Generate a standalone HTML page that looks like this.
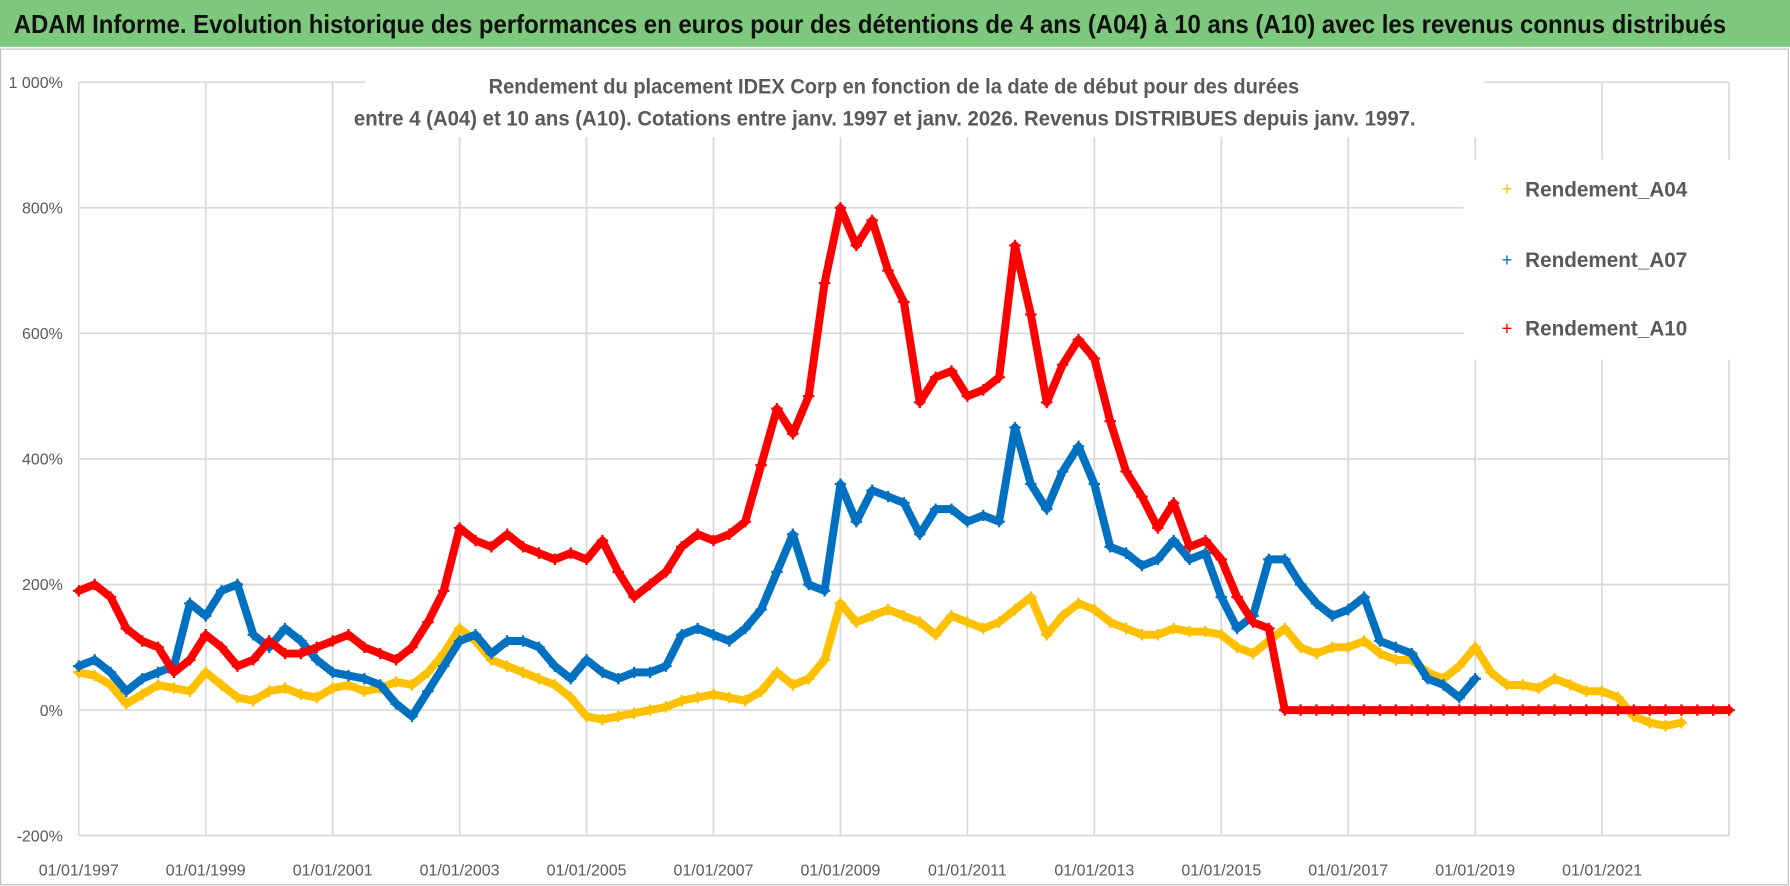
<!DOCTYPE html>
<html><head><meta charset="utf-8"><style>
html,body{margin:0;padding:0;background:#fff;width:1790px;height:886px;overflow:hidden}
svg{display:block;font-family:"Liberation Sans",sans-serif}
</style></head><body>
<svg id="c" width="1790" height="886" viewBox="0 0 1790 886">
<g transform="scale(1.1416)">
<rect x="0" y="0" width="1568" height="41" fill="#7dc87d"/>
<text x="12" y="29" font-size="23" font-weight="bold" fill="#111" textLength="1500" lengthAdjust="spacingAndGlyphs">ADAM Informe. Evolution historique des performances en euros pour des détentions de 4 ans (A04) à 10 ans (A10) avec les revenus connus distribués</text>
<rect x="0.5" y="43" width="1566" height="732" fill="none" stroke="#bfbfbf"/>
<g id="grid"></g>
<g id="series"></g>
<rect x="320" y="58" width="980" height="62" fill="#fff"/>
<text x="783" y="82" font-size="19" font-weight="bold" fill="#595959" text-anchor="middle" textLength="710" lengthAdjust="spacingAndGlyphs">Rendement du placement IDEX Corp en fonction de la date de début pour des durées</text>
<text x="775" y="110" font-size="19" font-weight="bold" fill="#595959" text-anchor="middle" textLength="930" lengthAdjust="spacingAndGlyphs">entre 4 (A04) et 10 ans (A10).  Cotations entre janv. 1997 et janv. 2026. Revenus DISTRIBUES  depuis janv. 1997.</text>
<rect x="1282" y="140" width="283" height="175" fill="#fff"/>
<g><text x="1320" y="171" font-size="16" fill="#FFC000" text-anchor="middle">+</text><text x="1336" y="172" font-size="19" font-weight="bold" fill="#595959" textLength="142" lengthAdjust="spacingAndGlyphs">Rendement_A04</text></g>
<g><text x="1320" y="233" font-size="16" fill="#0070C0" text-anchor="middle">+</text><text x="1336" y="234" font-size="19" font-weight="bold" fill="#595959" textLength="142" lengthAdjust="spacingAndGlyphs">Rendement_A07</text></g>
<g><text x="1320" y="293" font-size="16" fill="#FF0000" text-anchor="middle">+</text><text x="1336" y="294" font-size="19" font-weight="bold" fill="#595959" textLength="142" lengthAdjust="spacingAndGlyphs">Rendement_A10</text></g>
</g>
</svg>
<script>
const yTicks=[-200,0,200,400,600,800,1000];
const yTickLabels=["-200%","0%","200%","400%","600%","800%","1 000%"];
const xTickYears=[1997,1999,2001,2003,2005,2007,2009,2011,2013,2015,2017,2019,2021];
const xTickLabels=["01/01/1997","01/01/1999","01/01/2001","01/01/2003","01/01/2005","01/01/2007","01/01/2009","01/01/2011","01/01/2013","01/01/2015","01/01/2017","01/01/2019","01/01/2021"];
const startYear=1997;
const stepYears=0.25;
const a04=[60,55,40,10,25,40,35,30,60,40,20,15,30,35,25,20,35,40,30,35,45,40,60,90,130,110,80,70,60,50,40,20,-10,-15,-10,-5,0,5,15,20,25,20,15,30,60,40,50,80,170,140,150,160,150,140,120,150,140,130,140,160,180,120,150,170,160,140,130,120,120,130,125,125,120,100,90,110,130,100,90,100,100,110,90,80,80,60,50,70,100,60,40,40,35,50,40,30,30,20,-10,-20,-25,-20];
const a07=[70,80,60,30,50,60,70,170,150,190,200,120,100,130,110,80,60,55,50,40,10,-10,30,70,110,120,90,110,110,100,70,50,80,60,50,60,60,70,120,130,120,110,130,160,220,280,200,190,360,300,350,340,330,280,320,320,300,310,300,450,360,320,380,420,360,260,250,230,240,270,240,250,180,130,150,240,240,200,170,150,160,180,110,100,90,50,40,20,50];
const a10=[190,200,180,130,110,100,60,80,120,100,70,80,110,90,90,100,110,120,100,90,80,100,140,190,290,270,260,280,260,250,240,250,240,270,220,180,200,220,260,280,270,280,300,390,480,440,500,680,800,740,780,700,650,490,530,540,500,510,530,740,630,490,550,590,560,460,380,340,290,330,260,270,240,180,140,130,0,0,0,0,0,0,0,0,0,0,0,0,0,0,0,0,0,0,0,0,0,0,0,0,0,0,0,0,0];
const X0=69, PXY=55.6, Y0=622, PXV=0.55;
const xs=yr=>X0+(yr-1997)*PXY;
const ys=v=>Y0-v*PXV;
const NS="http://www.w3.org/2000/svg";
const grid=document.getElementById('grid'), ser=document.getElementById('series');
function mk(tag,attrs,parent){const e=document.createElementNS(NS,tag);for(const k in attrs)e.setAttribute(k,attrs[k]);parent.appendChild(e);return e;}
yTicks.forEach((v,i)=>{
  const l=mk('line',{x1:X0,x2:xs(2023),y1:ys(v),y2:ys(v),stroke:'#d9d9d9','stroke-width':1.5},grid);
  
  
  const t=mk('text',{x:55,y:ys(v)+5,'font-size':14,fill:'#595959','text-anchor':'end'},grid);
  t.textContent=yTickLabels[i];
  
  
});
xTickYears.concat([2023]).forEach(yr=>{
  const l=mk('line',{x1:xs(yr),x2:xs(yr),y1:ys(1000),y2:ys(-200),stroke:'#d9d9d9','stroke-width':1.5},grid);
  
  
});
xTickYears.forEach((yr,i)=>{
  const t=mk('text',{x:xs(yr),y:767,'font-size':14,fill:'#595959','text-anchor':'middle'},grid);
  t.textContent=xTickLabels[i];
  
  
});
function drawSeries(arr,color,name){
  const g=mk('g',{},ser);
  
  
  const pts=arr.map((v,i)=>xs(startYear+i*stepYears).toFixed(1)+','+ys(v).toFixed(1)).join(' ');
  mk('polyline',{points:pts,fill:'none',stroke:color,'stroke-width':7,'stroke-linejoin':'round','stroke-linecap':'round'},g);
  arr.forEach((v,i)=>{
    const x=xs(startYear+i*stepYears), y=ys(v);
    const p=mk('path',{d:`M${x-5},${y}h10M${x},${y-5}v10`,stroke:color,'stroke-width':2},g);
    
    
  });
}
drawSeries(a04,'#FFC000','series-a04');
drawSeries(a07,'#0070C0','series-a07');
drawSeries(a10,'#FF0000','series-a10');
</script>
</body></html>
